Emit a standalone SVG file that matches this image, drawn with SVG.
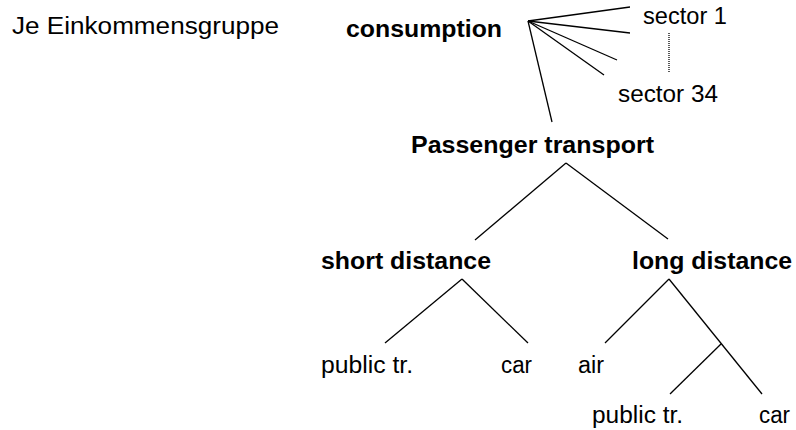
<svg xmlns="http://www.w3.org/2000/svg" width="796" height="430" viewBox="0 0 796 430">
<style>
text{font-family:"Liberation Sans",Arial,sans-serif;font-size:23px;fill:#000}
.b{font-weight:bold}
.c line{stroke:#000;stroke-width:1.3;fill:none}
.dot{stroke:#777;stroke-width:1;stroke-dasharray:1 1}
</style>
<rect width="796" height="430" fill="#fff"/>
<g id="label"><text x="12" y="34" textLength="267" lengthAdjust="spacingAndGlyphs">Je Einkommensgruppe</text></g>
<g id="consumption"><text class="b" x="346" y="37" textLength="156" lengthAdjust="spacingAndGlyphs">consumption</text></g>
<g id="sector1"><text x="643" y="24" textLength="84" lengthAdjust="spacingAndGlyphs">sector 1</text></g>
<g id="sector34"><text x="618" y="102" textLength="100" lengthAdjust="spacingAndGlyphs">sector 34</text></g>
<g id="passenger"><text class="b" x="411" y="153" textLength="243" lengthAdjust="spacingAndGlyphs">Passenger transport</text></g>
<g id="short"><text class="b" x="321" y="269" textLength="170" lengthAdjust="spacingAndGlyphs">short distance</text></g>
<g id="long"><text class="b" x="632" y="269" textLength="160" lengthAdjust="spacingAndGlyphs">long distance</text></g>
<g id="short-public"><text x="321" y="373" textLength="92" lengthAdjust="spacingAndGlyphs">public tr.</text></g>
<g id="short-car"><text x="501" y="373" textLength="31" lengthAdjust="spacingAndGlyphs">car</text></g>
<g id="air"><text x="578" y="373" textLength="26" lengthAdjust="spacingAndGlyphs">air</text></g>
<g id="long-public"><text x="592" y="423" textLength="91" lengthAdjust="spacingAndGlyphs">public tr.</text></g>
<g id="long-car"><text x="759" y="423" textLength="31" lengthAdjust="spacingAndGlyphs">car</text></g>
<g id="connectors" class="c">
<line x1="528" y1="21" x2="630" y2="7"/>
<line x1="528" y1="21" x2="630" y2="33"/>
<line x1="528" y1="21" x2="617" y2="60"/>
<line x1="528" y1="21" x2="604" y2="75"/>
<line x1="528" y1="21" x2="552" y2="122"/>
<line class="dot" x1="669" y1="33" x2="669" y2="72"/>
<line x1="566" y1="163" x2="475" y2="240"/>
<line x1="566" y1="163" x2="668" y2="239"/>
<line x1="462" y1="279" x2="385" y2="343"/>
<line x1="462" y1="279" x2="528" y2="343"/>
<line x1="669" y1="279" x2="605" y2="343"/>
<line x1="669" y1="279" x2="762" y2="394"/>
<line x1="721" y1="344" x2="670" y2="394"/>
</g>
</svg>
